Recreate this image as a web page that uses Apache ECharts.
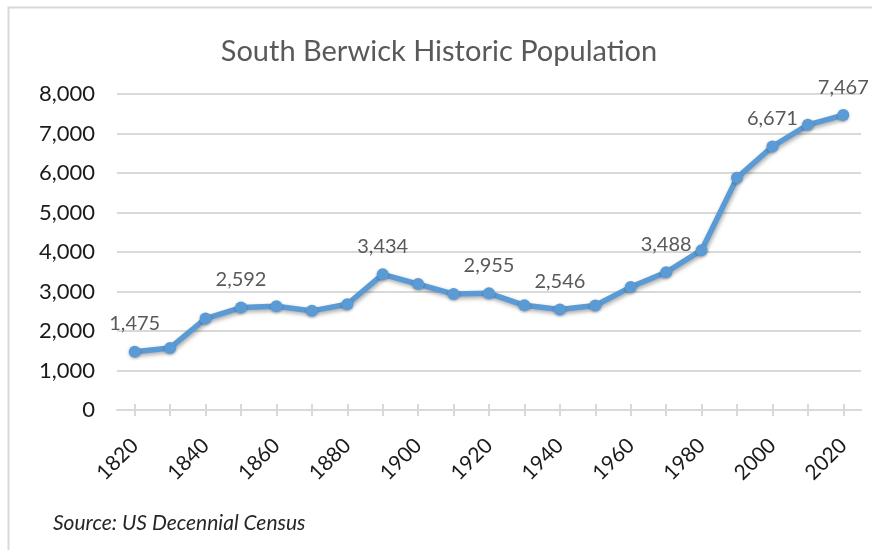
<!DOCTYPE html>
<html><head><meta charset="utf-8">
<script src="https://cdn.jsdelivr.net/npm/echarts@6/dist/echarts.min.js"></script>
<style>html,body{margin:0;padding:0;background:#fff}#c{width:872px;height:550px}</style>
</head><body><div id="c"></div>
<script>
const years = ['1820','1830','1840','1850','1860','1870','1880','1890','1900','1910','1920','1930','1940','1950','1960','1970','1980','1990','2000','2010','2020'];
const population = [1475,1570,2314,2592,2624,2510,2677,3434,3188,2935,2955,2650,2546,2646,3112,3488,4046,5877,6671,7220,7467];
const labeledYears = ['1820','1850','1890','1920','1940','1970','2000','2020'];
const FONT = 'Lato';
const chart = echarts.init(document.getElementById('c'));
const tickStyle = {color:'#d9d9d9',width:2};
chart.setOption({
  animation:false,
  title:{text:'South Berwick Historic Population',left:434,textAlign:'center',top:32,
    textStyle:{fontFamily:FONT,fontSize:29,fontWeight:'normal',color:'#595959'}},
  graphic:[
    {type:'rect',left:6,top:5,shape:{width:900,height:600},style:{fill:'none',stroke:'#d9d9d9',lineWidth:2}},
    {type:'text',left:53,top:513,style:{text:'Source: US Decennial Census',font:'italic 21px '+FONT,fill:'#262626'}}
  ],
  grid:{left:117,right:11,top:94,bottom:140},
  xAxis:[{type:'category',data:years,boundaryGap:true,
    axisLine:{lineStyle:{color:'#d9d9d9',width:2}},
    axisTick:{show:true,alignWithLabel:true,interval:0,length:6,lineStyle:tickStyle},
    axisLabel:{interval:1,rotate:45,margin:32,fontFamily:FONT,fontSize:21,color:'#1a1a1a'}},
   {type:'category',data:years,boundaryGap:true,position:'bottom',
    axisLine:{show:false},axisLabel:{show:false},splitLine:{show:false},
    axisTick:{show:true,inside:true,alignWithLabel:true,interval:0,length:6,lineStyle:tickStyle}}],
  yAxis:{type:'value',min:0,max:8000,interval:1000,
    axisLine:{show:false},axisTick:{show:false},
    splitLine:{lineStyle:{color:'#d9d9d9',width:2}},
    axisLabel:{margin:22,fontFamily:FONT,fontSize:22,color:'#1a1a1a',
      formatter:v=>v.toLocaleString('en-US')}},
  series:[{type:'line',xAxisIndex:0,
    data:population.map((v,i)=>({value:v,label:{show:labeledYears.includes(years[i])}})),
    symbol:'circle',symbolSize:12,
    lineStyle:{color:'#5B9BD5',width:5.5,shadowColor:'rgba(0,0,0,0.35)',shadowBlur:4,shadowOffsetX:1,shadowOffsetY:2},
    itemStyle:{color:'#5B9BD5',shadowColor:'rgba(0,0,0,0.3)',shadowBlur:3,shadowOffsetY:1},
    label:{position:'top',distance:12,fontFamily:FONT,fontSize:20,color:'#595959',
      formatter:p=>p.value.toLocaleString('en-US')}
  }]
});
</script></body></html>
